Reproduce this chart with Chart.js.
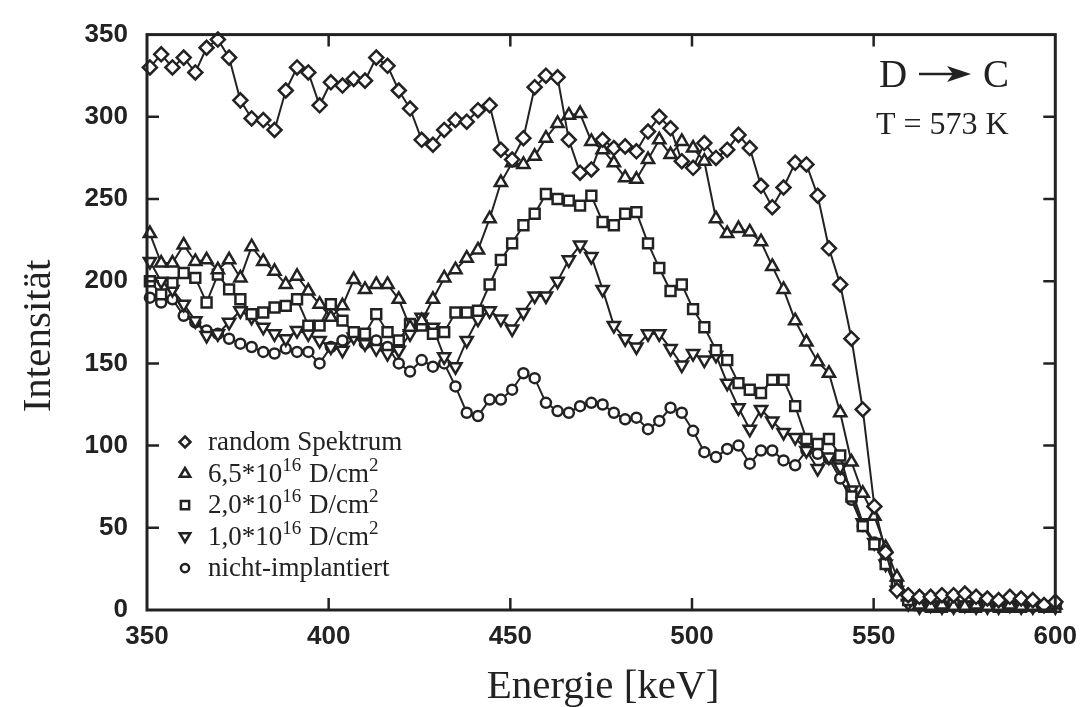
<!DOCTYPE html>
<html lang="de">
<head>
  <meta charset="UTF-8" />
  <title>D → C, T = 573 K</title>
  <script src="https://cdn.jsdelivr.net/npm/chart.js"></script>
  <style>
    html, body { margin: 0; padding: 0; background: #fff; }
    #wrap { width: 1088px; height: 707px; }
  </style>
</head>
<body>
  <div id="wrap"><canvas id="spec" width="1088" height="707"></canvas></div>

  <script>
    // Energiekanaele [keV]
    const energies = [
      350.8, 353.9, 357.0, 360.1, 363.3, 366.4, 369.5, 372.6, 375.7, 378.8,
      382.0, 385.1, 388.2, 391.3, 394.4, 397.5, 400.6, 403.8, 406.9, 410.0,
      413.1, 416.2, 419.3, 422.4, 425.6, 428.7, 431.8, 434.9, 438.0, 441.1,
      444.3, 447.4, 450.5, 453.6, 456.7, 459.8, 463.0, 466.1, 469.2, 472.3,
      475.4, 478.5, 481.6, 484.7, 487.9, 491.0, 494.1, 497.2, 500.3, 503.4,
      506.6, 509.7, 512.8, 515.9, 519.0, 522.1, 525.2, 528.4, 531.5, 534.6,
      537.7, 540.8, 543.9, 547.0, 550.2, 553.3, 556.4, 559.5, 562.6, 565.7,
      568.8, 572.0, 575.1, 578.2, 581.3, 584.4, 587.5, 590.6, 593.8, 596.9,
      600.0
    ];

    const randomSpektrum = [
      330, 338, 330, 336, 327, 342, 347, 336, 310, 299,
      298, 292, 316, 330, 327, 307, 321, 319, 323, 322,
      336, 331, 316, 305, 286, 283, 292, 298, 297, 304,
      307, 280, 274, 287, 318, 325, 324, 286, 266, 268,
      286, 281, 282, 279, 291, 300, 293, 273, 269, 284,
      275, 280, 289, 281, 258, 245, 257, 272, 271, 252,
      220, 198, 165, 122, 63, 35, 12, 9, 8, 8,
      9, 9, 10, 8, 7, 6, 8, 7, 6, 3,
      5
    ];

    const dosis65 = [
      229, 211, 211, 222, 212, 213, 207, 213, 202, 221,
      212, 206, 198, 203, 194, 186, 178, 185, 201, 195,
      198, 198, 189, 172, 176, 189, 202, 207, 214, 219,
      238, 260, 272, 271, 276, 287, 296, 301, 302, 285,
      280, 272, 263, 262, 274, 286, 277, 285, 281, 273,
      238, 229, 232, 230, 224, 209, 195, 176, 163, 151,
      144, 120, 90, 71, 57, 38, 20, 8, 3, 2,
      3, 2, 2, 3, 2, 2, 3, 2, 2, 2,
      3
    ];

    const dosis20 = [
      200, 192, 199, 205, 202, 187, 204, 195, 189, 180,
      181, 184, 185, 189, 173, 173, 186, 176, 169, 168,
      180, 169, 164, 174, 173, 168, 169, 181, 181, 182,
      198, 213, 223, 234, 241, 253, 250, 249, 246, 252,
      236, 234, 241, 242, 223, 208, 194, 198, 183, 172,
      158, 152, 138, 134, 132, 140, 140, 124, 104, 101,
      104, 94, 69, 51, 40, 28, 15, 6, 3, 2,
      2, 3, 2, 2, 3, 2, 2, 2, 3, 2,
      2
    ];

    const dosis10 = [
      212, 200, 195, 186, 176, 167, 168, 175, 182, 178,
      172, 168, 165, 170, 168, 164, 160, 158, 166, 162,
      159, 156, 158, 168, 178, 172, 154, 148, 164, 177,
      182, 177, 171, 181, 191, 191, 200, 213, 222, 215,
      195, 173, 165, 160, 168, 168, 159, 149, 156, 152,
      155, 138, 123, 110, 122, 115, 108, 105, 97, 86,
      93, 87, 73, 53, 41, 28, 12, 4, 2, 3,
      2, 2, 3, 2, 2, 2, 3, 2, 2, 3,
      2
    ];

    const nichtImpl = [
      190, 187, 189, 179, 175, 170, 168, 165, 162, 160,
      157, 156, 159, 157, 157, 150, 160, 164, 167, 162,
      164, 160, 150, 145, 152, 148, 150, 136, 120, 118,
      128, 128, 134, 144, 141, 126, 121, 120, 124, 126,
      125, 120, 116, 117, 110, 115, 123, 120, 109, 96,
      93, 98, 100, 89, 97, 97, 91, 88, 97, 95,
      92, 80, 67, 51, 41, 30, 15, 5, 3, 2,
      3, 2, 2, 2, 3, 2, 2, 3, 2, 2,
      3
    ];

    const xTicks = [350, 400, 450, 500, 550, 600];
    const yTicks = [0, 50, 100, 150, 200, 250, 300, 350];

    const INK = '#222';
    const serif = '"Liberation Serif", "Times New Roman", serif';
    const sans = '"Liberation Sans", Arial, sans-serif';

    function pts(vals) {
      return energies.map((e, i) => ({ x: e, y: vals[i] }));
    }

    function series(label, vals, style, radius, rotation) {
      return {
        label: label,
        data: pts(vals),
        borderColor: INK,
        borderWidth: 2,
        pointStyle: style,
        pointRadius: radius,
        pointRotation: rotation || 0,
        pointBorderColor: INK,
        pointBackgroundColor: '#fff',
        pointBorderWidth: 2.5,
        tension: 0,
        clip: false
      };
    }

    // marker for the hand drawn legend
    function marker(ctx, style, x, y, r) {
      ctx.save();
      ctx.strokeStyle = INK;
      ctx.fillStyle = '#fff';
      ctx.lineWidth = 2.5;
      ctx.beginPath();
      if (style === 'rectRot') {
        ctx.moveTo(x, y - r); ctx.lineTo(x + r, y); ctx.lineTo(x, y + r); ctx.lineTo(x - r, y); ctx.closePath();
      } else if (style === 'up') {
        ctx.moveTo(x, y - r); ctx.lineTo(x + r * 0.95, y + r * 0.6); ctx.lineTo(x - r * 0.95, y + r * 0.6); ctx.closePath();
      } else if (style === 'down') {
        ctx.moveTo(x, y + r); ctx.lineTo(x + r * 0.95, y - r * 0.6); ctx.lineTo(x - r * 0.95, y - r * 0.6); ctx.closePath();
      } else if (style === 'rect') {
        ctx.rect(x - r * 0.75, y - r * 0.75, r * 1.5, r * 1.5);
      } else {
        ctx.arc(x, y, r * 0.75, 0, Math.PI * 2);
      }
      ctx.fill();
      ctx.stroke();
      ctx.restore();
    }

    const legendRows = [
      { style: 'rectRot', parts: [['random Spektrum', 0]] },
      { style: 'up', parts: [['6,5*10', 0], ['16', 1], [' D/cm', 0], ['2', 1]] },
      { style: 'rect', parts: [['2,0*10', 0], ['16', 1], [' D/cm', 0], ['2', 1]] },
      { style: 'down', parts: [['1,0*10', 0], ['16', 1], [' D/cm', 0], ['2', 1]] },
      { style: 'circle', parts: [['nicht-implantiert', 0]] }
    ];

    const decor = {
      id: 'decor',
      afterDraw(chart) {
        const ctx = chart.ctx;
        const a = chart.chartArea;
        const xs = chart.scales.x, ys = chart.scales.y;
        ctx.save();
        ctx.strokeStyle = INK;
        ctx.lineWidth = 3;
        ctx.strokeRect(a.left, a.top, a.right - a.left, a.bottom - a.top);

        // inward tick marks on all four sides
        ctx.lineWidth = 2.5;
        const tl = 12;
        ctx.beginPath();
        xTicks.slice(1, -1).forEach(v => {
          const px = xs.getPixelForValue(v);
          ctx.moveTo(px, a.bottom); ctx.lineTo(px, a.bottom - tl);
          ctx.moveTo(px, a.top); ctx.lineTo(px, a.top + tl);
        });
        yTicks.slice(1, -1).forEach(v => {
          const py = ys.getPixelForValue(v);
          ctx.moveTo(a.left, py); ctx.lineTo(a.left + tl, py);
          ctx.moveTo(a.right, py); ctx.lineTo(a.right - tl, py);
        });
        ctx.stroke();

        // axis titles
        ctx.fillStyle = INK;
        ctx.font = '41px ' + serif;
        ctx.textAlign = 'center';
        ctx.textBaseline = 'alphabetic';
        ctx.fillText('Energie [keV]', 603, 698);
        ctx.save();
        ctx.translate(50, 336);
        ctx.rotate(-Math.PI / 2);
        ctx.fillText('Intensität', 0, 0);
        ctx.restore();

        // D -> C, T = 573 K
        ctx.textAlign = 'left';
        ctx.font = '39px ' + serif;
        ctx.fillText('D', 879, 87);
        ctx.fillText('C', 983, 87);
        ctx.beginPath();
        ctx.lineWidth = 2.5;
        ctx.moveTo(919, 74); ctx.lineTo(955, 74);
        ctx.stroke();
        ctx.beginPath();
        ctx.moveTo(971, 74); ctx.lineTo(947, 66); ctx.lineTo(953, 74); ctx.lineTo(947, 82); ctx.closePath();
        ctx.fill();
        ctx.font = '32px ' + serif;
        ctx.fillText('T = 573 K', 876, 134);

        // legend
        legendRows.forEach((row, k) => {
          const y = 442 + k * 31.5;
          marker(ctx, row.style, 185, y, 5.5);
          let x = 208;
          row.parts.forEach(([txt, sup]) => {
            ctx.font = (sup ? '19px ' : '27px ') + serif;
            ctx.fillText(txt, x, sup ? y - 3 : y + 8);
            x += ctx.measureText(txt).width + (sup ? 1 : 0);
          });
        });
        ctx.restore();
      }
    };

    new Chart(document.getElementById('spec'), {
      type: 'line',
      data: {
        datasets: [
          series('random Spektrum', randomSpektrum, 'rectRot', 7),
          series('6,5*10^16 D/cm^2', dosis65, 'triangle', 7),
          series('2,0*10^16 D/cm^2', dosis20, 'rect', 7),
          series('1,0*10^16 D/cm^2', dosis10, 'triangle', 7, 180),
          series('nicht-implantiert', nichtImpl, 'circle', 5)
        ]
      },
      options: {
        responsive: false,
        animation: false,
        layout: { padding: { left: 0, right: 28, top: 18, bottom: 0 } },
        plugins: { legend: { display: false }, tooltip: { enabled: false } },
        scales: {
          x: {
            type: 'linear',
            min: 350, max: 600,
            afterBuildTicks: s => { s.ticks = xTicks.map(v => ({ value: v })); },
            afterFit: s => { s.height = 97; },
            grid: { display: false, drawTicks: false },
            border: { display: false },
            ticks: { color: INK, padding: 11, maxRotation: 0, font: { family: sans, size: 26, weight: 'bold' } }
          },
          y: {
            type: 'linear',
            min: 0, max: 350,
            afterBuildTicks: s => { s.ticks = yTicks.map(v => ({ value: v })); },
            afterFit: s => { s.width = 147; },
            grid: { display: false, drawTicks: false },
            border: { display: false },
            ticks: { color: INK, padding: 19, font: { family: sans, size: 26, weight: 'bold' } }
          }
        }
      },
      plugins: [decor]
    });
  </script>
</body>
</html>
